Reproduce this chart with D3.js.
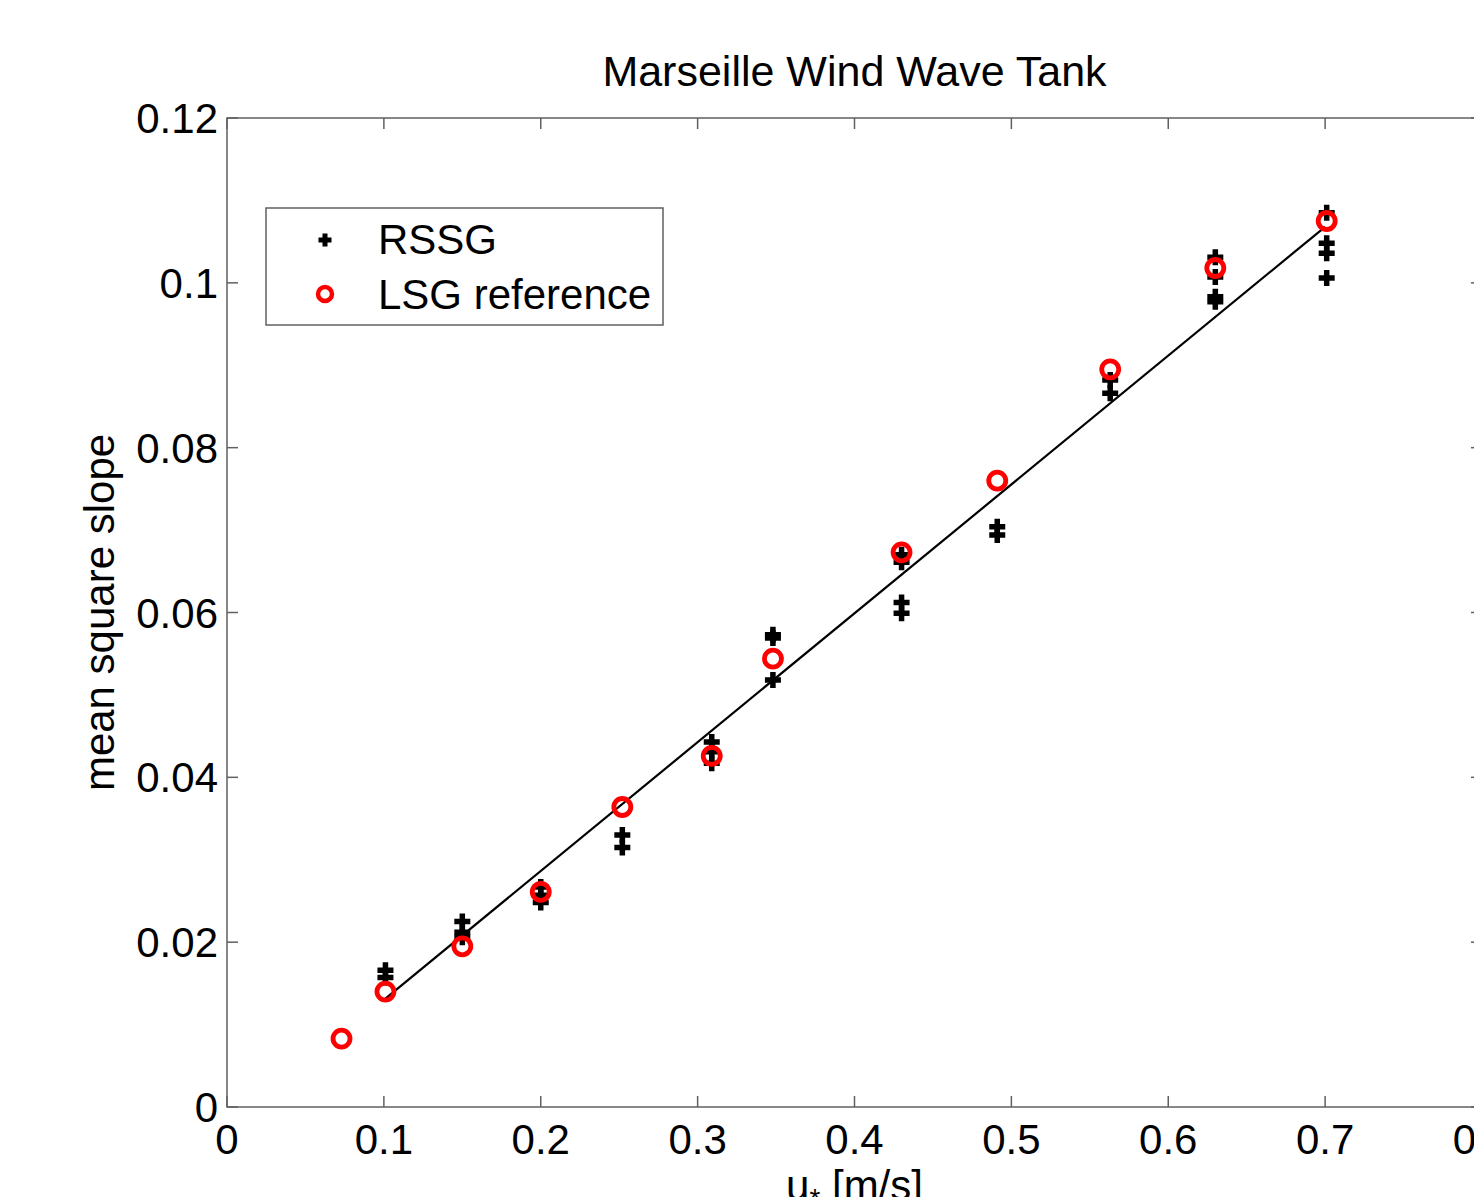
<!DOCTYPE html>
<html>
<head>
<meta charset="utf-8">
<script src="https://cdn.jsdelivr.net/npm/d3@7.9.0/dist/d3.min.js"></script>
<style>
  html, body { margin: 0; padding: 0; background: #fff; overflow: hidden; }
  svg { display: block; font-family: "Liberation Sans", Arial, sans-serif; }
</style>
</head>
<body>
<svg id="chart" width="1474" height="1197"></svg>
<script>
// LSG reference (red circles)
const lsgX = [0.073, 0.101, 0.150, 0.200, 0.252, 0.309, 0.348, 0.430, 0.491, 0.563, 0.630, 0.701];
const lsgY = [0.0083, 0.0140, 0.0195, 0.0261, 0.0364, 0.0426, 0.0544, 0.0673, 0.0760, 0.0895, 0.1018, 0.1075];

// RSSG (black plus), several records per wind speed
const rssgX = [0.101, 0.101, 0.150, 0.150, 0.150, 0.200, 0.200, 0.200, 0.252, 0.252,
  0.309, 0.309, 0.309, 0.348, 0.348, 0.348, 0.430, 0.430, 0.430, 0.430,
  0.491, 0.491, 0.563, 0.563, 0.630, 0.630, 0.630, 0.630, 0.701, 0.701, 0.701, 0.701];
const rssgY = [0.0166, 0.0157, 0.0225, 0.0212, 0.0206, 0.0267, 0.0257, 0.0248, 0.0330, 0.0315,
  0.0443, 0.0431, 0.0417, 0.0573, 0.0569, 0.0518, 0.0670, 0.0661, 0.0612, 0.0599,
  0.0704, 0.0694, 0.0882, 0.0866, 0.1031, 0.1007, 0.0983, 0.0977, 0.1085, 0.1048, 0.1036, 0.1006];

// linear fit line endpoints
const fitX = [0.1, 0.7];
const fitY = [0.0130, 0.1068];

const xTicks = [0, 0.1, 0.2, 0.3, 0.4, 0.5, 0.6, 0.7, 0.8];
const yTicks = [0, 0.02, 0.04, 0.06, 0.08, 0.1, 0.12];

const svg = d3.select("#chart");
const plotL = 227, plotR = 1482, plotT = 118, plotB = 1107;

const x = d3.scaleLinear().domain([0, 0.8]).range([plotL, plotR]);
const y = d3.scaleLinear().domain([0, 0.12]).range([plotB, plotT]);

const axisColor = "#606060";
const fontSize = 42;

// box
svg.append("rect")
  .attr("x", plotL).attr("y", plotT)
  .attr("width", plotR - plotL).attr("height", plotB - plotT)
  .attr("fill", "none").attr("stroke", axisColor).attr("stroke-width", 1.5);

// ticks (inward, all four sides)
const tickLen = 11;
const g = svg.append("g").attr("stroke", axisColor).attr("stroke-width", 1.5);
xTicks.forEach(t => {
  g.append("line").attr("x1", x(t)).attr("x2", x(t)).attr("y1", plotB).attr("y2", plotB - tickLen);
  g.append("line").attr("x1", x(t)).attr("x2", x(t)).attr("y1", plotT).attr("y2", plotT + tickLen);
});
yTicks.forEach(t => {
  g.append("line").attr("x1", plotL).attr("x2", plotL + tickLen).attr("y1", y(t)).attr("y2", y(t));
  g.append("line").attr("x1", plotR).attr("x2", plotR - tickLen).attr("y1", y(t)).attr("y2", y(t));
});

// tick labels
svg.append("g").selectAll("text").data(xTicks).join("text")
  .attr("x", d => x(d)).attr("y", plotB + 47)
  .attr("text-anchor", "middle").attr("font-size", fontSize)
  .text(d => d3.format("")(d));

svg.append("g").selectAll("text").data(yTicks).join("text")
  .attr("x", plotL - 9).attr("y", d => y(d) + 15)
  .attr("text-anchor", "end").attr("font-size", fontSize)
  .text(d => d3.format("")(d));

// title & labels
svg.append("text").attr("x", (plotL + plotR) / 2).attr("y", 86)
  .attr("text-anchor", "middle").attr("font-size", 43)
  .text("Marseille Wind Wave Tank");

svg.append("text")
  .attr("transform", `translate(114, ${(plotT + plotB) / 2}) rotate(-90)`)
  .attr("text-anchor", "middle").attr("font-size", fontSize)
  .text("mean square slope");

const xl = svg.append("text").attr("x", (plotL + plotR) / 2).attr("y", 1200)
  .attr("text-anchor", "middle").attr("font-size", fontSize);
xl.append("tspan").text("u");
xl.append("tspan").attr("font-size", 28).attr("dy", 8).text("*");
xl.append("tspan").attr("dy", -8).text(" [m/s]");

// fit line
svg.append("path")
  .datum(fitX.map((d, i) => [d, fitY[i]]))
  .attr("d", d3.line().x(d => x(d[0])).y(d => y(d[1])))
  .attr("fill", "none").attr("stroke", "#000").attr("stroke-width", 2.2);

// plus marker
const plus = s => `M${-s},0H${s}M0,${-s}V${s}`;

svg.append("g").selectAll("path").data(rssgX.map((d, i) => [d, rssgY[i]])).join("path")
  .attr("transform", d => `translate(${x(d[0])},${y(d[1])})`)
  .attr("d", plus(8))
  .attr("stroke", "#000").attr("stroke-width", 5.5).attr("fill", "none");

svg.append("g").selectAll("circle").data(lsgX.map((d, i) => [d, lsgY[i]])).join("circle")
  .attr("cx", d => x(d[0])).attr("cy", d => y(d[1]))
  .attr("r", 8.5)
  .attr("fill", "none").attr("stroke", "#ff0000").attr("stroke-width", 4.8);

// legend
const leg = svg.append("g");
leg.append("rect").attr("x", 266).attr("y", 208).attr("width", 397).attr("height", 117)
  .attr("fill", "#fff").attr("stroke", axisColor).attr("stroke-width", 1.5);
leg.append("path").attr("transform", "translate(325,240)").attr("d", plus(6.5))
  .attr("stroke", "#000").attr("stroke-width", 5);
leg.append("circle").attr("cx", 325).attr("cy", 294).attr("r", 7)
  .attr("fill", "none").attr("stroke", "#ff0000").attr("stroke-width", 4.5);
leg.append("text").attr("x", 378).attr("y", 254).attr("font-size", fontSize).text("RSSG");
leg.append("text").attr("x", 378).attr("y", 309).attr("font-size", fontSize).text("LSG reference");
</script>
</body>
</html>
